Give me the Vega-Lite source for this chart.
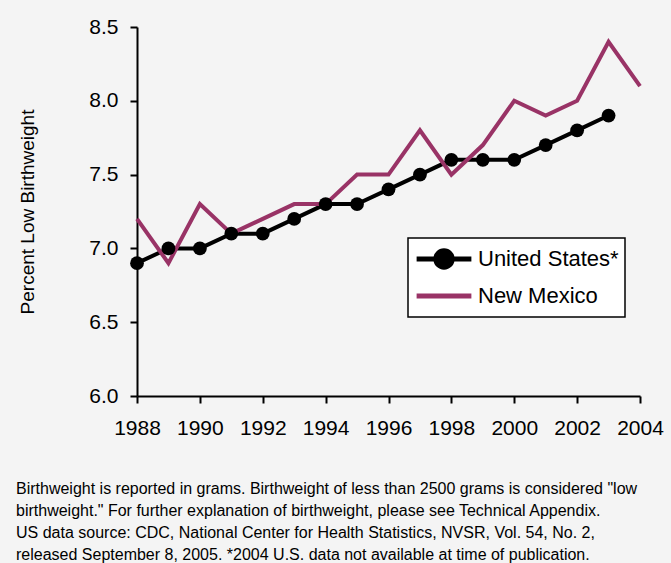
{
  "$schema": "https://vega.github.io/schema/vega-lite/v6.json",
  "width": 503,
  "height": 369,
  "autosize": "none",
  "padding": {"left": 137, "top": 27, "right": 31, "bottom": 167},
  "background": "#f4f4f4",
  "config": {
    "font": "Liberation Sans",
    "view": {"stroke": null},
    "axis": {"grid": false, "domainColor": "black", "domainWidth": 2, "tickColor": "black", "tickWidth": 2, "tickSize": 7, "labelColor": "black", "labelFont": "Liberation Sans", "labelFontSize": 21, "titleColor": "black"}
  },
  "title": {
    "text": [
      "Birthweight is reported in grams. Birthweight of less than 2500 grams is considered \"low",
      "birthweight.\"  For further explanation of birthweight, please see Technical Appendix.",
      "US data source:  CDC, National Center for Health Statistics, NVSR, Vol. 54, No. 2,",
      "released September 8, 2005.  *2004 U.S. data not available at time of publication."
    ],
    "orient": "bottom",
    "anchor": "start",
    "frame": "bounds",
    "baseline": "top",
    "offset": 43,
    "dx": -2,
    "fontSize": 16,
    "fontWeight": "normal",
    "lineHeight": 22,
    "color": "black",
    "font": "Liberation Sans"
  },
  "data": {
    "values": [
      {"year": 1988, "series": "United States*", "value": 6.9},
      {"year": 1989, "series": "United States*", "value": 7.0},
      {"year": 1990, "series": "United States*", "value": 7.0},
      {"year": 1991, "series": "United States*", "value": 7.1},
      {"year": 1992, "series": "United States*", "value": 7.1},
      {"year": 1993, "series": "United States*", "value": 7.2},
      {"year": 1994, "series": "United States*", "value": 7.3},
      {"year": 1995, "series": "United States*", "value": 7.3},
      {"year": 1996, "series": "United States*", "value": 7.4},
      {"year": 1997, "series": "United States*", "value": 7.5},
      {"year": 1998, "series": "United States*", "value": 7.6},
      {"year": 1999, "series": "United States*", "value": 7.6},
      {"year": 2000, "series": "United States*", "value": 7.6},
      {"year": 2001, "series": "United States*", "value": 7.7},
      {"year": 2002, "series": "United States*", "value": 7.8},
      {"year": 2003, "series": "United States*", "value": 7.9},
      {"year": 1988, "series": "New Mexico", "value": 7.2},
      {"year": 1989, "series": "New Mexico", "value": 6.9},
      {"year": 1990, "series": "New Mexico", "value": 7.3},
      {"year": 1991, "series": "New Mexico", "value": 7.1},
      {"year": 1992, "series": "New Mexico", "value": 7.2},
      {"year": 1993, "series": "New Mexico", "value": 7.3},
      {"year": 1994, "series": "New Mexico", "value": 7.3},
      {"year": 1995, "series": "New Mexico", "value": 7.5},
      {"year": 1996, "series": "New Mexico", "value": 7.5},
      {"year": 1997, "series": "New Mexico", "value": 7.8},
      {"year": 1998, "series": "New Mexico", "value": 7.5},
      {"year": 1999, "series": "New Mexico", "value": 7.7},
      {"year": 2000, "series": "New Mexico", "value": 8.0},
      {"year": 2001, "series": "New Mexico", "value": 7.9},
      {"year": 2002, "series": "New Mexico", "value": 8.0},
      {"year": 2003, "series": "New Mexico", "value": 8.4},
      {"year": 2004, "series": "New Mexico", "value": 8.1}
    ]
  },
  "encoding": {
    "x": {
      "field": "year", "type": "quantitative",
      "scale": {"domain": [1988, 2004], "nice": false, "zero": false},
      "axis": {"values": [1988, 1990, 1992, 1994, 1996, 1998, 2000, 2002, 2004], "format": "d", "title": null, "labelPadding": 14, "labelFlush": false}
    },
    "y": {
      "field": "value", "type": "quantitative",
      "scale": {"domain": [6.0, 8.5], "nice": false, "zero": false},
      "axis": {"values": [6.0, 6.5, 7.0, 7.5, 8.0, 8.5], "format": ".1f", "title": "Percent Low Birthweight", "titleFontSize": 19, "titleFontWeight": "normal", "titleX": -100, "labelPadding": 12}
    },
    "color": {
      "field": "series", "type": "nominal",
      "scale": {"domain": ["United States*", "New Mexico"], "range": ["#000000", "#993366"]},
      "legend": {
        "title": null,
        "orient": "none",
        "legendX": 271,
        "legendY": 211,
        "fillColor": "white",
        "strokeColor": "black",
        "padding": 6,
        "labelFontSize": 22,
        "labelColor": "black",
        "labelFont": "Liberation Sans",
        "labelOffset": 4,
        "symbolSize": 3000,
        "clipHeight": 30,
        "rowPadding": 7,
        "encode": {
          "legend": {"update": {"strokeWidth": {"value": 1.5}}},
          "symbols": {
            "update": {
              "shape": [
                {"test": "datum.value === 'United States*'", "value": "M-1,0H1M-0.3,0A0.3,0.3 0 1,0 0.3,0A0.3,0.3 0 1,0 -0.3,0Z"},
                {"value": "M-1,0H1"}
              ],
              "fill": [
                {"test": "datum.value === 'United States*'", "value": "black"},
                {"value": "transparent"}
              ],
              "stroke": {"scale": "color", "field": "value"},
              "strokeWidth": {"value": 5}
            }
          }
        }
      }
    }
  },
  "layer": [
    {
      "mark": {"type": "line", "strokeWidth": 4},
      "encoding": {"detail": {"field": "series"}}
    },
    {
      "transform": [{"filter": "datum.series === 'United States*'"}],
      "mark": {"type": "point", "filled": true, "size": 190, "opacity": 1, "color": "black"}
    }
  ]
}
